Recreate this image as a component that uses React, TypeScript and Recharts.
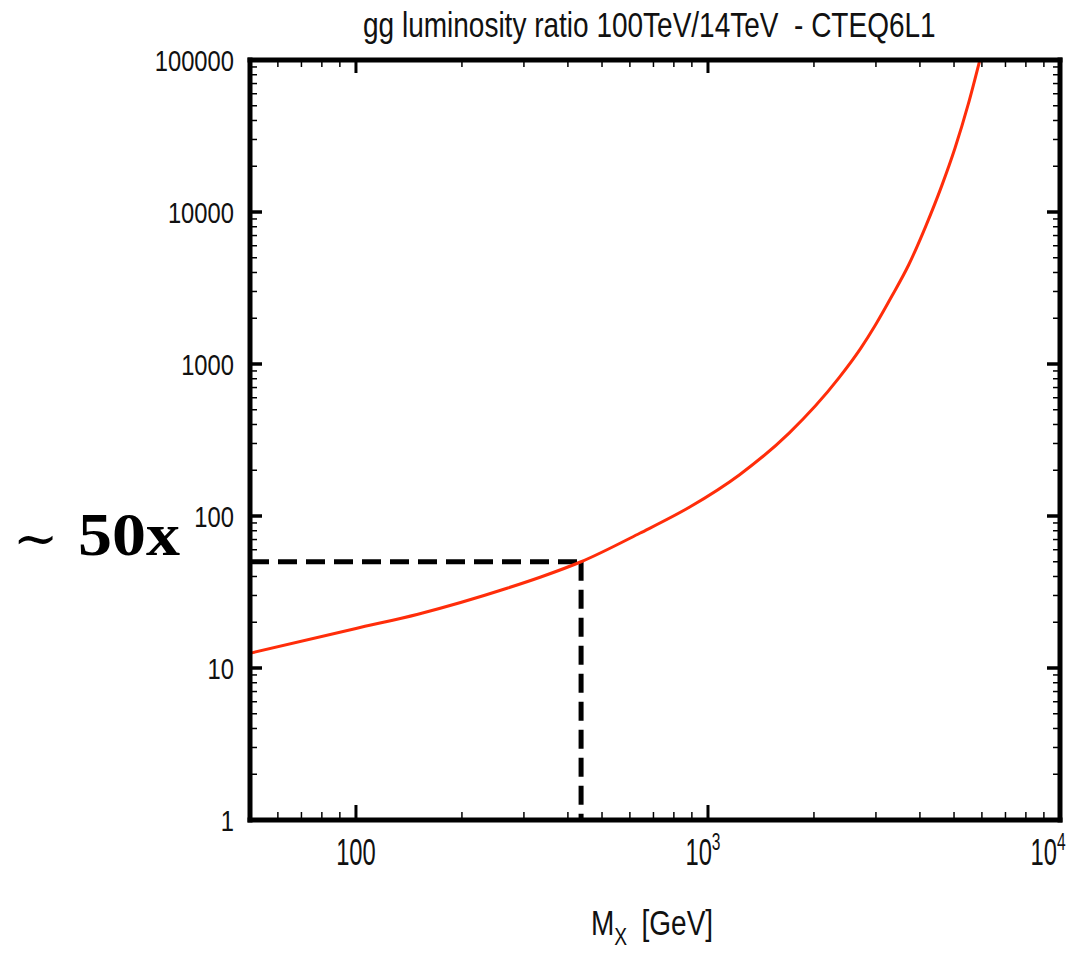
import { LineChart, Line, XAxis, YAxis, ReferenceLine } from "recharts";

// gg luminosity ratio 100 TeV / 14 TeV
const massGeV = [50, 100, 150, 270, 335, 436, 640, 890, 1230, 1700, 2355, 2715, 2990, 3330, 3715, 4140, 4610, 5030, 5480, 5920];
const lumiRatio = [12.5, 18.2, 22.6, 33.6, 39.7, 50, 77, 115, 187, 351, 810, 1267, 1806, 2800, 4480, 7900, 14800, 26250, 50600, 100000];

const xMajorTicks = [100, 1000, 10000];
const xMinorTicks = [60, 70, 80, 90, 200, 300, 400, 500, 600, 700, 800, 900, 2000, 3000, 4000, 5000, 6000, 7000, 8000, 9000];
const xTickLabels: Record<number, [string, string]> = {
  100: ["100", ""],
  1000: ["10", "3"],
  10000: ["10", "4"],
};

const yMajorTicks = [1, 10, 100, 1000, 10000, 100000];
const yMinorTicks = [
  2, 3, 4, 5, 6, 7, 8, 9,
  20, 30, 40, 50, 60, 70, 80, 90,
  200, 300, 400, 500, 600, 700, 800, 900,
  2000, 3000, 4000, 5000, 6000, 7000, 8000, 9000,
  20000, 30000, 40000, 50000, 60000, 70000, 80000, 90000,
];

// the "~50x" marker
const markerMass = 436;
const markerRatio = 50;

const title = "gg luminosity ratio 100TeV/14TeV  - CTEQ6L1";

const data = massGeV.map((m, i) => ({ m, ratio: lumiRatio[i] }));
const xTicks = [...xMajorTicks, ...xMinorTicks].sort((a, b) => a - b);
const yTicks = [...yMajorTicks, ...yMinorTicks].sort((a, b) => a - b);

const SANS = "'Liberation Sans', Arial, sans-serif";
const SERIF = "'Liberation Serif', 'DejaVu Serif', serif";
const frame = { stroke: "#000", strokeWidth: 5, strokeLinecap: "square" as const };

function BottomTick({ x, y, payload }: any) {
  const v = payload.value;
  const major = xMajorTicks.includes(v);
  const label = xTickLabels[v];
  // superscripted labels sit a little left of their tick, as in the original
  const shift = v === 10000 ? -12 : v === 1000 ? -5 : 0;
  return (
    <g>
      <line x1={x} x2={x} y1={y} y2={y - (major ? 15 : 8)} stroke="#000" strokeWidth={major ? 3 : 1.5} />
      {label && (
        <text
          transform={`translate(${x + shift},${y + 45}) scale(0.82,1.25)`}
          textAnchor="middle"
          fontSize={29}
          fontFamily={SANS}
          fill="#111"
        >
          {label[0]}
          {label[1] && (
            <tspan fontSize={19} dy={-12}>
              {label[1]}
            </tspan>
          )}
        </text>
      )}
    </g>
  );
}

function TopTick({ x, y, payload }: any) {
  const major = xMajorTicks.includes(payload.value);
  return <line x1={x} x2={x} y1={y} y2={y + (major ? 13 : 7)} stroke="#000" strokeWidth={major ? 3 : 1.5} />;
}

function LeftTick({ x, y, payload }: any) {
  const v = payload.value;
  const major = yMajorTicks.includes(v);
  return (
    <g>
      <line x1={x} x2={x + (major ? 12 : 7)} y1={y} y2={y} stroke="#000" strokeWidth={major ? 3.5 : 1.5} />
      {major && (
        <text
          transform={`translate(${x - 16},${y + 11}) scale(0.82,1)`}
          textAnchor="end"
          fontSize={29}
          fontFamily={SANS}
          fill="#111"
        >
          {String(v)}
        </text>
      )}
    </g>
  );
}

function RightTick({ x, y, payload }: any) {
  const major = yMajorTicks.includes(payload.value);
  return <line x1={x} x2={x - (major ? 13 : 7)} y1={y} y2={y} stroke="#000" strokeWidth={major ? 3.5 : 1.5} />;
}

export default function App() {
  return (
    <div style={{ position: "absolute", left: 0, top: 0, width: 1071, height: 953, background: "#fff" }}>
      <LineChart width={1071} height={953} data={data} margin={{ top: 0, right: 0, bottom: 0, left: 0 }}>
        <XAxis
          xAxisId="bottom"
          dataKey="m"
          type="number"
          scale="log"
          domain={[50, 10000]}
          allowDataOverflow
          ticks={xTicks}
          interval={0}
          height={133}
          tickSize={0}
          tickMargin={0}
          tickLine={false}
          axisLine={frame}
          tick={(p: any) => <BottomTick {...p} />}
        />
        <XAxis
          xAxisId="top"
          orientation="top"
          dataKey="m"
          type="number"
          scale="log"
          domain={[50, 10000]}
          allowDataOverflow
          ticks={xTicks}
          interval={0}
          height={60}
          tickSize={0}
          tickMargin={0}
          tickLine={false}
          axisLine={frame}
          tick={(p: any) => <TopTick {...p} />}
        />
        <YAxis
          yAxisId="left"
          type="number"
          scale="log"
          domain={[1, 100000]}
          allowDataOverflow
          ticks={yTicks}
          interval={0}
          width={250}
          tickSize={0}
          tickMargin={0}
          tickLine={false}
          axisLine={frame}
          tick={(p: any) => <LeftTick {...p} />}
        />
        <YAxis
          yAxisId="right"
          orientation="right"
          type="number"
          scale="log"
          domain={[1, 100000]}
          allowDataOverflow
          ticks={yTicks}
          interval={0}
          width={11}
          tickSize={0}
          tickMargin={0}
          tickLine={false}
          axisLine={frame}
          tick={(p: any) => <RightTick {...p} />}
        />
        {/* invisible twin so the top/right frame axes get a domain */}
        <Line
          xAxisId="top"
          yAxisId="right"
          dataKey="ratio"
          stroke="none"
          strokeOpacity={0}
          dot={false}
          activeDot={false}
          isAnimationActive={false}
        />
        <ReferenceLine
          xAxisId="bottom"
          yAxisId="left"
          segment={[
            { x: 50, y: markerRatio },
            { x: markerMass, y: markerRatio },
          ]}
          stroke="#000"
          strokeWidth={5}
          strokeDasharray="19 9"
          ifOverflow="visible"
        />
        <ReferenceLine
          xAxisId="bottom"
          yAxisId="left"
          segment={[
            { x: markerMass, y: markerRatio },
            { x: markerMass, y: 1 },
          ]}
          stroke="#000"
          strokeWidth={5}
          strokeDasharray="19 9"
          ifOverflow="visible"
        />
        <Line
          xAxisId="bottom"
          yAxisId="left"
          type="monotone"
          dataKey="ratio"
          stroke="#ff2d0a"
          strokeWidth={3}
          dot={false}
          activeDot={false}
          isAnimationActive={false}
        />
      </LineChart>
      <svg
        width={1071}
        height={953}
        style={{ position: "absolute", left: 0, top: 0, pointerEvents: "none" }}
      >
        <text
          transform="translate(363,37) scale(0.8,1)"
          fontSize={35}
          fontFamily={SANS}
          fill="#111"
          style={{ whiteSpace: "pre" }}
        >
          {title}
        </text>
        <g transform="translate(591,935) scale(0.8,1)">
          <text x={0} y={0} fontSize={35} fontFamily={SANS} fill="#111">
            M
            <tspan fontSize={24} dy={10}>
              X
            </tspan>
            <tspan dy={-10} dx={18}>
              [GeV]
            </tspan>
          </text>
        </g>
        <text x={13} y={557} fontSize={54} fontFamily="'DejaVu Serif', serif" fill="#000">
          ~
        </text>
        <text
          x={78}
          y={555}
          fontSize={62}
          fontWeight="bold"
          fontFamily={SERIF}
          fill="#000"
          textLength={102}
          lengthAdjust="spacingAndGlyphs"
        >
          50x
        </text>
      </svg>
    </div>
  );
}
